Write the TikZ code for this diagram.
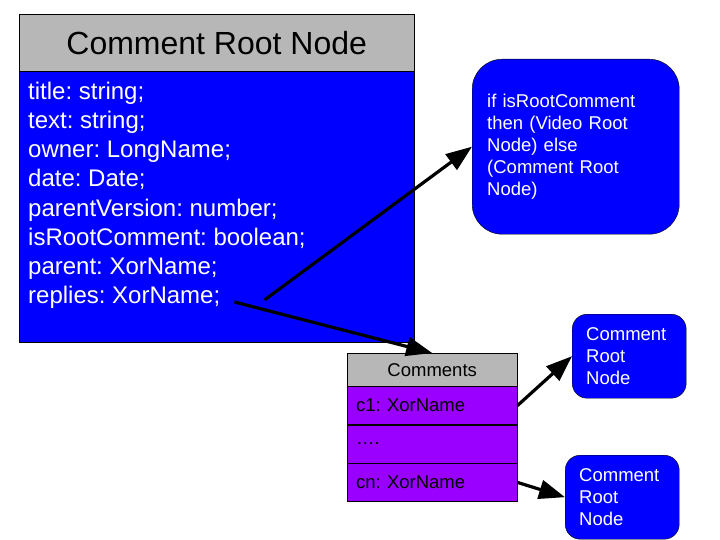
\documentclass[tikz,border=0pt]{standalone}
\usepackage{fontspec}
\setmainfont{Liberation Sans}
\usetikzlibrary{arrows.meta,positioning}
\definecolor{node-blue}{HTML}{0000FF}
\definecolor{head-grey}{HTML}{B7B7B7}
\definecolor{row-purple}{HTML}{9900FF}
\frenchspacing
\tikzset{
    class-title/.style = {draw=black, fill=head-grey, rectangle, minimum width=395pt, minimum height=57pt, inner sep=0pt, font=\fontsize{32}{38}\selectfont},
    class-body/.style = {draw=black, fill=node-blue, rectangle, minimum width=395pt, minimum height=271pt, inner sep=0pt},
    field-text/.style = {text=white, inner sep=0pt, font=\fontsize{24}{29}\selectfont},
    note-box/.style = {draw=black, fill=node-blue, rectangle, text=white, align=left, inner sep=0pt, font=\fontsize{18.5}{22}\selectfont},
    table-head/.style = {draw=black, fill=head-grey, rectangle, minimum width=170pt, minimum height=33pt, inner sep=0pt, font=\fontsize{18.5}{22}\selectfont},
    table-row/.style = {draw=black, fill=row-purple, rectangle, minimum width=170pt, minimum height=38pt, text width=152pt, align=left, inner sep=0pt, font=\fontsize{18.5}{22}\selectfont},
    link-arrow/.style = {line width=3.2pt, -{Triangle[length=26pt,width=19pt]}},
}
\begin{document}
\begin{tikzpicture}[x=1pt,y=-1pt]
\useasboundingbox (0,0) rectangle (720,540);

% comment root node
\node[class-title, anchor=north west] (class-head) at (19,14) {Comment Root Node};
\node[class-body, anchor=north] (class-body) at (class-head.south) {};
\foreach \f [count=\i] in {title: string;, text: string;, owner: LongName;, date: Date;, parentVersion: number;, isRootComment: boolean;, parent: XorName;, replies: XorName;}
    \node[field-text, anchor=base west] (field-\i) at (28,{100+29*(\i-1)}) {\f};

% parent note
\node[note-box, rounded corners=30pt, minimum width=207pt, minimum height=175pt, text width=177pt, anchor=north west] (parent-note) at (472,59)
    {if isRootComment\\then (Video Root\\Node) else\\(Comment Root\\Node)};

% comments table
\node[table-head, anchor=north west] (cmt-head) at (347,353) {Comments};
\node[table-row, below=0pt of cmt-head] (cmt-first) {c1: XorName};
\node[table-row, below=0pt of cmt-first] (cmt-dots) {….};
\node[table-row, below=0pt of cmt-dots] (cmt-last) {cn: XorName};

% child comment nodes
\node[note-box, rounded corners=15pt, minimum width=114pt, minimum height=84pt, text width=86pt, anchor=north west] (child-first) at (572,314) {Comment\\Root\\Node};
\node[note-box, rounded corners=15pt, minimum width=114pt, minimum height=84pt, text width=86pt, anchor=north west] (child-last) at (565,455) {Comment\\Root\\Node};

% links
\coordinate (reply-a) at ([xshift=44pt,yshift=3pt]field-8.base east);
\coordinate (reply-b) at ([xshift=14pt,yshift=1pt]field-8.base east);
\draw[link-arrow] (reply-a) -- (parent-note.west);
\draw[link-arrow] (reply-b) -- (cmt-head.north);
\draw[link-arrow] (cmt-first.east) -- (child-first.west);
\draw[link-arrow] (cmt-last.east) -- (child-last.west);
\end{tikzpicture}
\end{document}
